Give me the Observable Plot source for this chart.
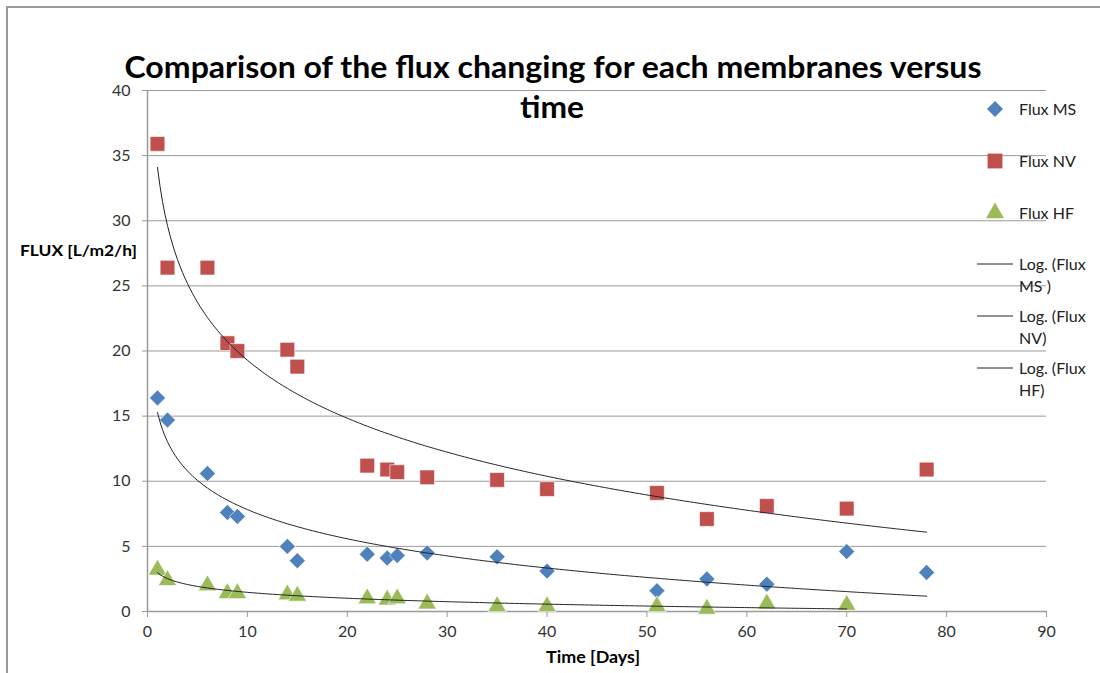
<!DOCTYPE html>
<html><head><meta charset="utf-8">
<script src="https://cdn.jsdelivr.net/npm/d3@7"></script>
<script src="https://cdn.jsdelivr.net/npm/@observablehq/plot@0.6"></script>
<style>
body{margin:0;background:#fff;}
#wrap{position:relative;width:1100px;height:673px;overflow:hidden;background:#fff}
#wrap svg{position:absolute;left:0;top:0}
#frame{position:absolute;left:6px;top:6px;width:1200px;height:800px;border-left:2px solid #9a9a9a;border-top:2px solid #9a9a9a}
</style></head><body><div id="wrap"><div id="frame"></div></div>
<script>
// ---- data ----
const days   = [1, 2, 6, 8, 9, 14, 15, 22, 24, 25, 28, 35, 40, 51, 56, 62, 70, 78];
const fluxMS = [16.4, 14.7, 10.6, 7.6, 7.3, 5.0, 3.9, 4.4, 4.1, 4.3, 4.5, 4.2, 3.1, 1.6, 2.5, 2.1, 4.6, 3.0];
const fluxNV = [35.9, 26.4, 26.4, 20.6, 20.0, 20.1, 18.8, 11.2, 10.9, 10.7, 10.3, 10.1, 9.4, 9.1, 7.1, 8.1, 7.9, 10.9];
const daysHF = [1, 2, 6, 8, 9, 14, 15, 22, 24, 25, 28, 35, 40, 51, 56, 62, 70];
const fluxHF = [3.2, 2.4, 2.0, 1.4, 1.4, 1.3, 1.2, 1.0, 0.9, 1.0, 0.6, 0.4, 0.4, 0.4, 0.2, 0.6, 0.5];
const xTicks = [0, 10, 20, 30, 40, 50, 60, 70, 80, 90];
const yTicks = [0, 5, 10, 15, 20, 25, 30, 35, 40];
const seriesNames = ["Flux MS", "Flux NV", "Flux HF"];
const trendNames = [["Log. (Flux", "MS )"], ["Log. (Flux", "NV)"], ["Log. (Flux", "HF)"]];
const titleLines = ["Comparison of the flux changing for each membranes versus", "time"];

const colors = {ms: "#4F81BD", nv: "#C0504D", hf: "#9BBB59"};
const FONT = "Lato, 'Open Sans', sans-serif";

// logarithmic least-squares trend (as Excel's Log. trendline)
function logTrend(xs, ys) {
  const lx = xs.map(Math.log);
  const mx = d3.mean(lx), my = d3.mean(ys);
  const a = d3.sum(lx, (v, i) => (v - mx) * (ys[i] - my)) / d3.sum(lx, v => (v - mx) ** 2);
  const b = my - a * mx;
  const lo = d3.min(xs), hi = d3.max(xs);
  return d3.range(lo, hi + 1e-9, 0.25).map(x => ({x, y: a * Math.log(x) + b}));
}

const ms = days.map((d, i) => ({x: d, y: fluxMS[i]}));
const nv = days.map((d, i) => ({x: d, y: fluxNV[i]}));
const hf = daysHF.map((d, i) => ({x: d, y: fluxHF[i]}));

const chart = Plot.plot({
  width: 1100, height: 673,
  marginLeft: 147, marginRight: 54, marginTop: 90, marginBottom: 62,
  style: {fontFamily: FONT, fontSize: "16px", color: "#333", background: "transparent"},
  x: {domain: [0, 90], ticks: xTicks, label: null},
  y: {domain: [0, 40], ticks: yTicks, label: null},
  marks: [
    Plot.ruleY(yTicks.filter(t => t > 0), {stroke: "#9a9a9a", strokeWidth: 1}),
    Plot.ruleX([0], {stroke: "#9a9a9a", strokeWidth: 1.5}),
    Plot.ruleY([0], {stroke: "#9a9a9a", strokeWidth: 1.5}),
    Plot.axisY({ticks: yTicks, tickSize: 5, tickPadding: 12, stroke: "#9a9a9a", fill: "#333", fontSize: 16, label: null}),
    Plot.axisX({ticks: xTicks, tickSize: 6, tickPadding: 8, stroke: "#9a9a9a", fill: "#333", fontSize: 16, label: null}),
    Plot.dot(nv, {x: "x", y: "y", symbol: "square", r: 8.3, fill: colors.nv, stroke: "#fff", strokeWidth: 0.6}),
    Plot.dot(ms, {x: "x", y: "y", symbol: "diamond2", r: 7.2, fill: colors.ms, stroke: "#fff", strokeWidth: 0.6}),
    Plot.dot(hf, {x: "x", y: "y", symbol: "triangle", r: 6.8, fill: colors.hf, stroke: "#fff", strokeWidth: 0.6}),
    Plot.line(logTrend(days, fluxNV), {x: "x", y: "y", stroke: "#222", strokeWidth: 1}),
    Plot.line(logTrend(days, fluxMS), {x: "x", y: "y", stroke: "#222", strokeWidth: 1}),
    Plot.line(logTrend(daysHF, fluxHF), {x: "x", y: "y", stroke: "#222", strokeWidth: 1})
  ]
});
document.getElementById("wrap").appendChild(chart);

// overlay: title, axis titles, legend
const ov = d3.select("#wrap").append("svg").attr("width", 1100).attr("height", 673)
  .style("font-family", FONT).style("pointer-events", "none");

ov.append("text").attr("x", 553).attr("y", 78).attr("text-anchor", "middle")
  .attr("font-size", 30).attr("font-weight", 700).attr("fill", "#000")
  .attr("textLength", 857).attr("lengthAdjust", "spacingAndGlyphs").text(titleLines[0]);
ov.append("text").attr("x", 552).attr("y", 118).attr("text-anchor", "middle")
  .attr("font-size", 30).attr("font-weight", 700).attr("fill", "#000")
  .attr("textLength", 64).attr("lengthAdjust", "spacingAndGlyphs").text(titleLines[1]);

ov.append("text").attr("x", 593).attr("y", 663).attr("text-anchor", "middle")
  .attr("font-size", 17).attr("font-weight", 700).attr("fill", "#000")
  .attr("textLength", 94).attr("lengthAdjust", "spacingAndGlyphs").text("Time [Days]");
ov.append("text").attr("x", 20).attr("y", 256).attr("text-anchor", "start")
  .attr("font-size", 16).attr("font-weight", 700).attr("fill", "#000")
  .attr("textLength", 117).attr("lengthAdjust", "spacingAndGlyphs").text("FLUX [L/m2/h]");

// legend
const legX = 995, legTextX = 1019;
const symbols = [d3.symbolDiamond2, d3.symbolSquare, d3.symbolTriangle];
const symSizes = [163, 220, 140];
const symColors = [colors.ms, colors.nv, colors.hf];
seriesNames.forEach((name, i) => {
  const y = 109 + i * 52;
  ov.append("path").attr("transform", `translate(${legX},${y})`)
    .attr("d", d3.symbol(symbols[i], symSizes[i])()).attr("fill", symColors[i]);
  ov.append("text").attr("x", legTextX).attr("y", y + 6).attr("font-size", 16).attr("fill", "#222").text(name);
});
trendNames.forEach((lines, i) => {
  const y = 264 + i * 52;
  ov.append("line").attr("x1", 977).attr("x2", 1013).attr("y1", y).attr("y2", y).attr("stroke", "#222").attr("stroke-width", 1);
  lines.forEach((t, j) => {
    ov.append("text").attr("x", legTextX).attr("y", y + 6 + j * 22).attr("font-size", 16).attr("fill", "#222").text(t);
  });
});
</script></body></html>
